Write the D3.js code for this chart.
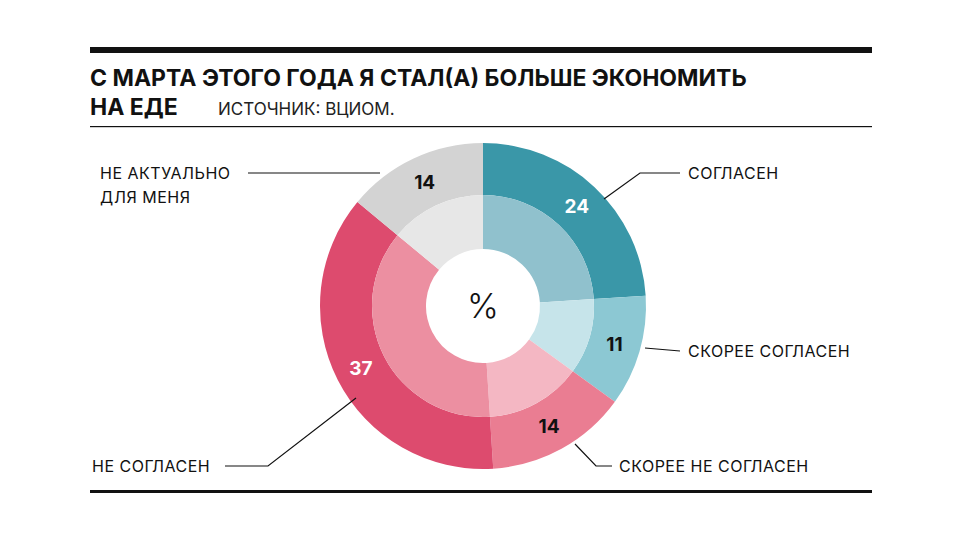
<!DOCTYPE html>
<html><head><meta charset="utf-8">
<script src="https://cdn.jsdelivr.net/npm/d3@7"></script>
<style>body{margin:0;background:#fff}svg{font-family:Inter,Roboto,sans-serif}</style>
</head><body><svg id="c" width="968" height="544"></svg>
<script>
const categories=["СОГЛАСЕН","СКОРЕЕ СОГЛАСЕН","СКОРЕЕ НЕ СОГЛАСЕН","НЕ СОГЛАСЕН","НЕ АКТУАЛЬНО ДЛЯ МЕНЯ"];
const values=[24,11,14,37,14];
const outerColors=["#3a97a8","#8cc8d3","#ea7d92","#dd4b6e","#d3d3d3"];
const innerColors=["#90c1cd","#c6e4ea","#f4b7c3","#ec8fa1","#e7e7e7"];
const numColors=["#fff","#111","#111","#fff","#111"];
const svg=d3.select("#c");
const cx=483,cy=306;
svg.append("rect").attr("x",90).attr("y",47).attr("width",782).attr("height",6).attr("fill","#111");
svg.append("rect").attr("x",90).attr("y",126).attr("width",782).attr("height",1.2).attr("fill","#111");
svg.append("rect").attr("x",90).attr("y",490).attr("width",782).attr("height",3).attr("fill","#111");
svg.append("text").attr("x",90).attr("y",86).attr("font-size",23).attr("font-weight",700).attr("fill","#111").text("С МАРТА ЭТОГО ГОДА Я СТАЛ(А) БОЛЬШЕ ЭКОНОМИТЬ");
svg.append("text").attr("x",90).attr("y",115).attr("font-size",23).attr("font-weight",700).attr("fill","#111").text("НА ЕДЕ");
svg.append("text").attr("x",218).attr("y",115).attr("font-size",17).attr("fill","#222").text("ИСТОЧНИК: ВЦИОМ.");
const pie=d3.pie().sort(null).value(d=>d)(values);
const g=svg.append("g").attr("transform",`translate(${cx},${cy})`);
const outer=d3.arc().innerRadius(111).outerRadius(163);
const inner=d3.arc().innerRadius(57).outerRadius(111);
g.selectAll(".o").data(pie).join("path").attr("d",outer).attr("fill",(d,i)=>outerColors[i]);
g.selectAll(".i").data(pie).join("path").attr("d",inner).attr("fill",(d,i)=>innerColors[i]);
const lab=d3.arc().innerRadius(137).outerRadius(137);
g.selectAll(".n").data(pie).join("text").attr("transform",d=>`translate(${lab.centroid(d)})`)
 .attr("text-anchor","middle").attr("dy","0.36em").attr("font-size",19).attr("font-weight",700)
 .attr("fill",(d,i)=>numColors[i]).text(d=>d.data);
g.append("text").attr("text-anchor","middle").attr("dy","0.36em").attr("font-size",34).attr("font-weight",300).attr("fill","#111").text("%");
const lines=[[[604,199],[640,173],[680,173]],[[645,348],[680,351]],[[575,444],[596,466],[612,466]],[[225,466],[268,466],[356,398]],[[248,173],[380,173]]];
lines.forEach(p=>svg.append("path").attr("d",d3.line()(p)).attr("fill","none").attr("stroke","#111").attr("stroke-width",1.2));
const labels=[[688,179,["СОГЛАСЕН"]],[688,357,["СКОРЕЕ СОГЛАСЕН"]],[619,472,["СКОРЕЕ НЕ СОГЛАСЕН"]],[92,472,["НЕ СОГЛАСЕН"]],[100,179,["НЕ АКТУАЛЬНО","ДЛЯ МЕНЯ"]]];
labels.forEach(([x,y,ls])=>ls.forEach((t,k)=>svg.append("text").attr("x",x).attr("y",y+k*24).attr("font-size",16).attr("fill","#111").attr("letter-spacing",0.5).text(t)));
</script></body></html>
